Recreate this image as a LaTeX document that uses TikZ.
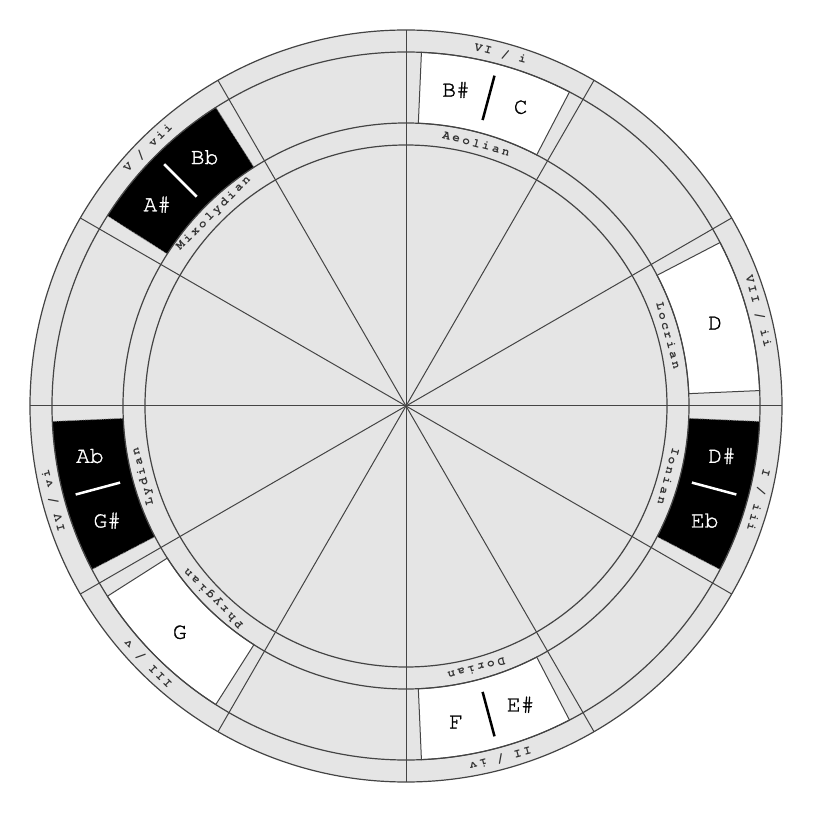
\documentclass[tikz,border=0pt]{standalone}
\usepackage{fontspec}
\newfontfamily\notefont[FakeBold=1.2]{TeX Gyre Cursor}
\newfontfamily\ringfont[LetterSpace=22]{TeX Gyre Cursor}
\definecolor{ringgrey}{HTML}{E5E5E5}
\definecolor{rimline}{HTML}{444444}

\begin{document}
\begin{tikzpicture}[x=1pt, y=1pt,
        rim/.style={draw=rimline, line width=1.2pt},
        spoke/.style={draw=rimline, line width=1pt},
        whitebox/.style={fill=white, draw=rimline, line width=1pt},
        blackbox/.style={fill=black, draw=black!45, densely dotted, line width=0.8pt},
        degree/.style={font=\ringfont\bfseries\fontsize{12.5}{12}\selectfont, text=black!80, inner sep=0pt},
        mode/.style={font=\ringfont\bfseries\fontsize{12.5}{12}\selectfont, text=black!80, inner sep=0pt},
        note/.style={font=\notefont\fontsize{23}{23}\selectfont, inner sep=0pt}
    ]
    \useasboundingbox (-406,-407) rectangle (407,406);
    \coordinate (hub) at (0,0);

    % grey disc
    \fill[ringgrey] (hub) circle[radius=376];

    % key boxes
    \foreach \c/\kind in {75/whitebox, 15/whitebox, -15/blackbox, -75/whitebox,
                          -135/whitebox, 195/blackbox, 135/blackbox}
        \draw[\kind] ({\c-12.5}:283) arc[start angle=\c-12.5, end angle=\c+12.5, radius=283]
            -- ({\c+12.5}:354) arc[start angle=\c+12.5, end angle=\c-12.5, radius=354] -- cycle;

    % rings and spokes
    \foreach \r in {376, 354, 283, 261}
        \draw[rim] (hub) circle[radius=\r];
    \foreach \a in {0, 30, ..., 330}
        \draw[spoke] (hub) -- (\a:376);

    % degrees and modes
    \foreach \c/\k/\deg/\mode in {75/C/{VI / i}/Aeolian, 15/D/{VII / ii}/Locrian,
                                  -15/Eb/{I / iii}/Ionian, -75/F/{II / iv}/Dorian,
                                  -135/G/{III / v}/Phrygian, 195/Ab/{IV / vi}/Lydian,
                                  135/Bb/{V / vii}/Mixolydian}
    {
        \node[degree, rotate=\c-90] (deg-\k) at (\c:365) {\deg};
        \node[mode, rotate=\c-90] (mode-\k) at (\c:272) {\mode};
    }

    % note names
    \foreach \c/\k/\up/\down/\ink in {75/C/B\#/C/black, -15/Eb/D\#/Eb/white,
                                      -75/F/E\#/F/black, 195/Ab/G\#/Ab/white,
                                      135/Bb/A\#/Bb/white}
    {
        \node[note, text=\ink] (sharp-\k) at ({\c+6}:320) {\up};
        \node[note, text=\ink] (flat-\k) at ({\c-6}:320) {\down};
        \draw[\ink, line width=2.5pt] (\c:296) -- (\c:342);
    }
    \node[note] (note-D) at (15:320) {D};
    \node[note] (note-G) at (-135:320) {G};
\end{tikzpicture}
\end{document}
